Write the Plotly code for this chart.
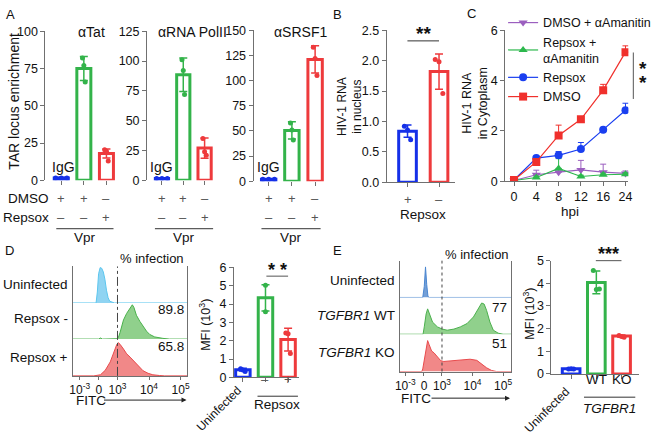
import plotly.graph_objects as go

W, H = 660, 440
def px(x): return x / W
def py(y): return 1 - y / H

FONT = "Liberation Sans, Arial, sans-serif"
BLUE, GREEN, RED = "#1530e8", "#33b34a", "#ee3a3c"
AXC = "#707070"

# ---------------- data ----------------
a_dmso = ["+", "+", "–"]
a_repsox = ["–", "–", "+"]
tat_mean = [1.5, 75, 18]
tat_err = [0.3, 8, 3]
tat_pts = [[1.5, 1.5, 1.5], [82, 77, 66], [20.5, 19.5, 13]]
pol_mean = [1.5, 88.5, 27]
pol_err = [0.3, 14, 8.5]
pol_pts = [[1.5, 1.5, 1.5], [101, 92, 72], [35, 24, 21]]
srsf_mean = [2, 50.5, 121]
srsf_err = [0.3, 8.5, 13.5]
srsf_pts = [[2, 2, 2], [58, 51, 41], [133, 122, 105]]

b_repsox = ["+", "–"]
b_mean = [0.84, 1.82]
b_err = [0.1, 0.29]
b_pts = [[0.92, 0.86, 0.7], [2.02, 1.98, 1.46]]

hpi = ["0", "4", "8", "12", "16", "24"]
c_dmso_am = [0.03, 0.26, 0.36, 0.45, 0.36, 0.31]
c_dmso_am_err = [0, 0.18, 0.1, 0.38, 0.32, 0.1]
c_rep_am = [0.03, 0.15, 0.51, 0.19, 0.26, 0.28]
c_rep_am_err = [0, 0.05, 0.39, 0.05, 0.06, 0.05]
c_rep = [0.05, 0.92, 1.03, 1.28, 2.05, 2.82]
c_rep_err = [0, 0.04, 0.15, 0.26, 0.05, 0.28]
c_dmso = [0.05, 0.77, 1.82, 2.46, 3.62, 5.13]
c_dmso_err = [0, 0.04, 0.41, 0.06, 0.23, 0.25]

fitc_ticks = [-1.2, -0.59, 0, 1, 2]
fitc_text = ["10<sup>-3</sup>", "0", "10<sup>3</sup>", "10<sup>4</sup>", "10<sup>5</sup>"]
d_uninf_x = [-1.45, -0.68, -0.64, -0.6, -0.55, -0.5, -0.45, -0.4, -0.35, -0.3, -0.25, -0.15, -0.1, 2.3]
d_uninf_y = [0, 0, 0.3, 0.8, 0.97, 0.95, 0.85, 0.65, 0.35, 0.15, 0.05, 0.01, 0, 0]
d_neg_x = [-1.45, -0.6, -0.54, -0.48, 0.0, 0.03, 0.08, 0.19, 0.29, 0.4, 0.47, 0.52, 0.6, 0.71, 0.81, 0.92, 1.02, 1.18, 1.44, 1.65, 2.3]
d_neg_y = [0, 0, 0.03, 0, 0.01, 0.05, 0.18, 0.53, 0.71, 0.88, 0.95, 0.88, 0.66, 0.49, 0.35, 0.22, 0.13, 0.06, 0.02, 0, 0]
d_pos_x = [-1.45, -0.75, -0.54, -0.39, -0.23, -0.125, -0.02, 0.03, 0.08, 0.19, 0.29, 0.4, 0.5, 0.6, 0.71, 0.81, 0.97, 1.12, 1.33, 1.5, 2.3]
d_pos_y = [0, 0, 0.03, 0.15, 0.38, 0.65, 0.86, 0.9, 0.86, 0.73, 0.6, 0.51, 0.42, 0.34, 0.25, 0.14, 0.07, 0.03, 0.01, 0, 0]
d_pct = ["89.8", "65.8"]

d_mfi_mean = [0.42, 4.34, 2.06]
d_mfi_err = [0.08, 0.72, 0.62]
d_mfi_pts = [[0.47, 0.4, 0.32], [5.03, 3.58], [2.42, 2.38, 1.3]]

e_uninf_x = [-1.45, -0.63, -0.58, -0.54, -0.5, -0.46, -0.42, 2.3]
e_uninf_y = [0, 0, 0.3, 0.83, 0.35, 0.03, 0, 0]
e_wt_x = [-1.45, -0.62, -0.58, -0.52, -0.47, -0.42, -0.31, -0.15, 0.01, 0.17, 0.39, 0.6, 0.82, 1.03, 1.19, 1.3, 1.38, 1.46, 1.57, 1.68, 1.84, 2.0, 2.3]
e_wt_y = [0, 0, 0.2, 0.55, 0.69, 0.56, 0.33, 0.2, 0.14, 0.11, 0.14, 0.2, 0.29, 0.47, 0.69, 0.85, 0.82, 0.65, 0.33, 0.11, 0.03, 0, 0]
e_ko_x = [-1.45, -0.66, -0.63, -0.56, -0.47, -0.42, -0.34, -0.26, -0.15, -0.04, 0.06, 0.28, 0.49, 0.71, 0.92, 1.14, 1.3, 1.46, 1.62, 1.78, 2.3]
e_ko_y = [0, 0, 0.07, 0.37, 0.83, 0.72, 0.55, 0.5, 0.39, 0.29, 0.27, 0.29, 0.3, 0.33, 0.33, 0.3, 0.2, 0.1, 0.03, 0, 0]
e_pct = ["77", "51"]

e_mfi_mean = [0.23, 4.04, 1.67]
e_mfi_err = [0.02, 0.5, 0.05]
e_mfi_pts = [[0.22, 0.23, 0.22], [4.57, 3.73, 3.75], [1.7, 1.65, 1.62]]

# ---------------- figure ----------------
fig = go.Figure()
layout = {}
annotations = []
shapes = []

def ann(text, x, y, size=13, xanchor="center", yanchor="middle", color="#111", **kw):
    annotations.append(dict(text=text, x=px(x), y=py(y), xref="paper", yref="paper",
                            xanchor=xanchor, yanchor=yanchor, showarrow=False,
                            font=dict(size=size, color=color, family=FONT), **kw))

def hline(x0, x1, y, color="#333", width=1, dash=None):
    shapes.append(dict(type="line", xref="paper", yref="paper", x0=px(x0), x1=px(x1),
                       y0=py(y), y1=py(y), line=dict(color=color, width=width, dash=dash)))

def add_axes(n, xdom, ydom, xr, yr, ydtick=None, xline=True, xticks=True,
             ytickformat=None, show_y=True):
    xa = dict(domain=[px(xdom[0]), px(xdom[1])], range=xr, anchor=f"y{n}",
              showgrid=False, zeroline=False, showline=xline, linecolor=AXC, linewidth=1,
              ticks="outside" if xticks else "", ticklen=4, tickcolor=AXC,
              showticklabels=False, fixedrange=True)
    ya = dict(domain=[py(ydom[1]), py(ydom[0])], range=yr, anchor=f"x{n}",
              showgrid=False, zeroline=False, showline=show_y, linecolor=AXC, linewidth=1,
              ticks="outside" if show_y else "", ticklen=4, tickcolor=AXC,
              showticklabels=show_y, tickfont=dict(size=12.5, color="#111", family=FONT),
              fixedrange=True)
    if ydtick is not None:
        ya["dtick"] = ydtick
        ya["tick0"] = 0
    if ytickformat:
        ya["tickformat"] = ytickformat
    layout[f"xaxis{n if n > 1 else ''}"] = xa
    layout[f"yaxis{n if n > 1 else ''}"] = ya
    return xa, ya

def bar_panel(n, means, errs, pts, colors, width, spreads):
    xs = f"x{n}" if n > 1 else "x"
    ys = f"y{n}" if n > 1 else "y"
    for i, (m, e, p, c) in enumerate(zip(means, errs, pts, colors)):
        fig.add_trace(go.Bar(x=[i], y=[m], width=width, xaxis=xs, yaxis=ys,
                             marker=dict(color="white", line=dict(color=c, width=3)),
                             error_y=dict(type="data", array=[e], color=c, thickness=1.5, width=4),
                             showlegend=False, hoverinfo="skip"))
        sp = spreads[i]
        offs = [sp * (k - (len(p) - 1) / 2) for k in range(len(p))]
        fig.add_trace(go.Scatter(x=[i + o for o in offs], y=p, mode="markers", xaxis=xs, yaxis=ys,
                                 marker=dict(color=c, size=5), showlegend=False, hoverinfo="skip"))

COL3 = [BLUE, GREEN, RED]

# ---- A ----
add_axes(1, (41, 112), (25, 179), [-0.7, 2.4], [0, 100], 25, xline=False)
add_axes(2, (144, 211), (25, 179), [-0.7, 2.4], [0, 125], 25, xline=False)
add_axes(3, (252, 325), (24, 180), [-0.65, 2.45], [0, 150], 25, xline=False)
for n, (mn, er, pt) in zip([1, 2, 3], [(tat_mean, tat_err, tat_pts), (pol_mean, pol_err, pol_pts),
                                      (srsf_mean, srsf_err, srsf_pts)]):
    bar_panel(n, mn, er, pt, COL3, 0.62, [0.25, 0.06, 0.08])
    xa = layout[f"xaxis{n if n > 1 else ''}"]
    xa["tickvals"] = [0, 1, 2]
    xref = f"x{n}" if n > 1 else "x"
    for i in range(3):
        for lab, yy in ((a_dmso[i], 198), (a_repsox[i], 217)):
            annotations.append(dict(text=lab, x=i, y=py(yy), xref=xref, yref="paper",
                                    showarrow=False, font=dict(size=13, color="#555", family=FONT)))
ann("αTat", 88, 26, 14)
ann("αRNA PolII", 190, 26, 14)
ann("αSRSF1", 300, 26, 14)
for x in (59, 159, 267):
    ann("IgG", x, 165, 14)
ann("DMSO", 47, 198, 13.5, xanchor="right")
ann("Repsox", 47, 217, 13.5, xanchor="right")
for x0, x1 in ((52, 110), (152, 211), (260, 320)):
    hline(x0, x1, 229)
    ann("Vpr", (x0 + x1) / 2, 238, 13.5)
ann("TAR locus enrichment", 9, 97, 14, textangle=-90)
ann("A", 6, 8, 13)

# ---- B ----
add_axes(4, (387, 456), (24, 181), [-0.66, 1.5], [0, 2.5], 0.5, ytickformat=".1f")
bar_panel(4, b_mean, b_err, b_pts, [BLUE, RED], 0.56, [0.1, 0.12])
layout["xaxis4"]["tickvals"] = [0, 1]
for i in range(2):
    annotations.append(dict(text=b_repsox[i], x=i, y=py(199), xref="x4", yref="paper",
                            showarrow=False, font=dict(size=13, color="#555", family=FONT)))
ann("Repsox", 424, 214, 13.5)
ann("HIV-1 RNA<br>in nucleus", 349, 103, 12, textangle=-90)
hline(408, 440, 35, width=1)
ann("<b>**</b>", 424, 27, 19)
ann("B", 337, 8, 13)

# ---- C ----
add_axes(5, (507, 632), (24, 180), [-0.4, 5.13], [0, 6], 2)
layout["xaxis5"].update(type="category", showticklabels=True,
                        tickfont=dict(size=12.5, color="#111", family=FONT))
c_series = [
    ("DMSO + αAmanitin", c_dmso_am, c_dmso_am_err, "#9b5fbf", "triangle-down"),
    ("Repsox +<br>αAmanitin", c_rep_am, c_rep_am_err, "#2db84d", "triangle-up"),
    ("Repsox", c_rep, c_rep_err, "#1a3ff0", "circle"),
    ("DMSO", c_dmso, c_dmso_err, "#f0302c", "square"),
]
for name, ys, es, col, sym in c_series:
    fig.add_trace(go.Scatter(x=hpi, y=ys, name=name, mode="lines+markers", xaxis="x5", yaxis="y5",
                             line=dict(color=col, width=1.2),
                             marker=dict(color=col, size=8, symbol=sym),
                             error_y=dict(type="data", array=es, arrayminus=[0] * len(es),
                                          symmetric=False, color=col, thickness=1, width=3),
                             showlegend=True, hoverinfo="skip"))
ann("hpi", 573, 211, 13.5)
ann("HIV-1 RNA<br>in Cytoplasm", 476, 100, 12.5, textangle=-90)
shapes.append(dict(type="line", xref="paper", yref="paper", x0=px(637), x1=px(637),
                   y0=py(47), y1=py(95), line=dict(color="#555", width=1)))
ann("<b>*</b>", 647, 64, 19)
ann("<b>*</b>", 647, 78, 19)
ann("C", 473, 7, 13)

# ---- histograms ----
def hist_rows(base_n, xdom, xr, rows, curves, dash):
    for k, ((top, bot), (xs_, ys_, lc, fc)) in enumerate(zip(rows, curves)):
        n = base_n + k
        last = k == len(rows) - 1
        xa, ya = add_axes(n, xdom, (top, bot), list(xr), [0, 1.0],
                          xline=last, xticks=last, show_y=False)
        ya.update(showline=True, mirror=True, ticks="")
        if last:
            xa.update(tickvals=fitc_ticks, ticktext=fitc_text, showticklabels=True, ticklen=3,
                      tickfont=dict(size=12, color="#111", family=FONT))
        fig.add_trace(go.Scatter(x=xs_, y=ys_, mode="lines", fill="tozeroy", fillcolor=fc,
                                 line=dict(color=lc, width=1), xaxis=f"x{n}", yaxis=f"y{n}",
                                 showlegend=False, hoverinfo="skip"))
    shapes.append(dict(type="line", xref=f"x{base_n + len(rows) - 1}", yref="paper", x0=0, x1=0,
                       y0=py(rows[-1][1]), y1=py(rows[0][0]),
                       line=dict(color="#444", width=1, dash=dash)))

hist_rows(6, (69, 185), (-1.41, 2.22), [(268, 305.7), (305.7, 343), (343, 381)],
          [(d_uninf_x, d_uninf_y, "#5cc6ee", "rgba(125,205,240,0.85)"),
           (d_neg_x, d_neg_y, "#48b04a", "rgba(125,200,120,0.85)"),
           (d_pos_x, d_pos_y, "#e84a4c", "rgba(238,115,115,0.85)")], "dashdot")
ann("% infection", 184, 260, 13, xanchor="right")
ann(d_pct[0], 184, 312, 13.5, xanchor="right")
ann(d_pct[1], 184, 351, 13.5, xanchor="right")
ann("Uninfected", 66, 287, 13.5, xanchor="right")
ann("Repsox -", 66, 322, 13.5, xanchor="right")
ann("Repsox +", 66, 362, 13.5, xanchor="right")
ann("FITC", 70, 406, 13.5, xanchor="left")
annotations.append(dict(x=px(184), y=py(406), xref="paper", yref="paper", ax=-84, ay=0,
                        text="", showarrow=True, arrowhead=2, arrowsize=1, arrowwidth=1,
                        arrowcolor="#222"))
ann("D", 5, 252, 13)

# ---- D MFI ----
add_axes(9, (232, 298), (269, 382.5), [-0.4, 2.48], [0, 6], 1)
bar_panel(9, d_mfi_mean, d_mfi_err, d_mfi_pts, COL3, 0.64, [0.1, 0.0, 0.1])
layout["xaxis9"]["tickvals"] = [0, 1, 2]
for i, lab in ((1, "–"), (2, "+")):
    annotations.append(dict(text=lab, x=i, y=py(395), xref="x9", yref="paper",
                            showarrow=False, font=dict(size=13, color="#555", family=FONT)))
hline(256, 297, 402)
ann("Repsox", 276, 411, 13.5)
annotations.append(dict(text="Uninfected", x=0.15, y=py(386), xref="x9", yref="paper",
                        xanchor="right", yanchor="top", textangle=-45, showarrow=False,
                        font=dict(size=12, color="#111", family=FONT)))
ann("MFI (10<sup>3</sup>)", 202, 328, 12.5, textangle=-90)
hline(265, 287, 278, color="#555")
ann("<b>* *</b>", 276, 272, 18)

# ---- E histograms ----
hist_rows(10, (400, 513), (-1.39, 2.26), [(262, 300), (300, 338), (338, 376.5)],
          [(e_uninf_x, e_uninf_y, "#4a86d0", "rgba(80,135,205,0.8)"),
           (e_wt_x, e_wt_y, "#4cb04e", "rgba(125,200,120,0.85)"),
           (e_ko_x, e_ko_y, "#e84a4c", "rgba(238,115,115,0.85)")], "dot")
ann("% infection", 513, 256, 13, xanchor="right")
ann(e_pct[0], 511, 310, 13.5, xanchor="right")
ann(e_pct[1], 511, 348, 13.5, xanchor="right")
ann("Uninfected", 397, 282, 13.5, xanchor="right")
ann("<i>TGFBR1</i> WT", 397, 319, 13.5, xanchor="right")
ann("<i>TGFBR1</i> KO", 397, 357, 13.5, xanchor="right")
ann("FITC", 399, 404, 13.5, xanchor="left")
annotations.append(dict(x=px(512), y=py(404), xref="paper", yref="paper", ax=-80, ay=0,
                        text="", showarrow=True, arrowhead=2, arrowsize=1, arrowwidth=1,
                        arrowcolor="#222"))
ann("E", 337, 252, 13)

# ---- E MFI ----
add_axes(13, (554, 643), (262, 379), [-0.78, 2.7], [0, 5], 1)
bar_panel(13, e_mfi_mean, e_mfi_err, e_mfi_pts, COL3, 0.7, [0.1, 0.12, 0.1])
layout["xaxis13"]["tickvals"] = [0, 1, 2]
for i, lab in ((1, "WT"), (2, "KO")):
    annotations.append(dict(text=lab, x=i, y=py(395), xref="x13", yref="paper",
                            showarrow=False, font=dict(size=13.5, color="#111", family=FONT)))
hline(587, 639, 403)
ann("<i>TGFBR1</i>", 613, 415, 13.5)
annotations.append(dict(text="Uninfected", x=0.15, y=py(387), xref="x13", yref="paper",
                        xanchor="right", yanchor="top", textangle=-45, showarrow=False,
                        font=dict(size=12, color="#111", family=FONT)))
ann("MFI (10<sup>3</sup>)", 531, 317, 12.5, textangle=-90)
hline(599, 625, 262, color="#555")
ann("<b>***</b>", 612, 255, 18)

layout.update(dict(
    width=W, height=H, margin=dict(l=0, r=0, t=0, b=0),
    paper_bgcolor="white", plot_bgcolor="rgba(0,0,0,0)",
    font=dict(family=FONT, size=12, color="#111"),
    showlegend=True,
    legend=dict(x=px(505), y=py(1), xanchor="left", yanchor="top", bgcolor="rgba(0,0,0,0)",
                font=dict(size=12.5, family=FONT, color="#111"), tracegroupgap=0, itemwidth=30),
    annotations=annotations, shapes=shapes, barmode="overlay",
))
fig.update_layout(**layout)
fig.write_html("out.html")
